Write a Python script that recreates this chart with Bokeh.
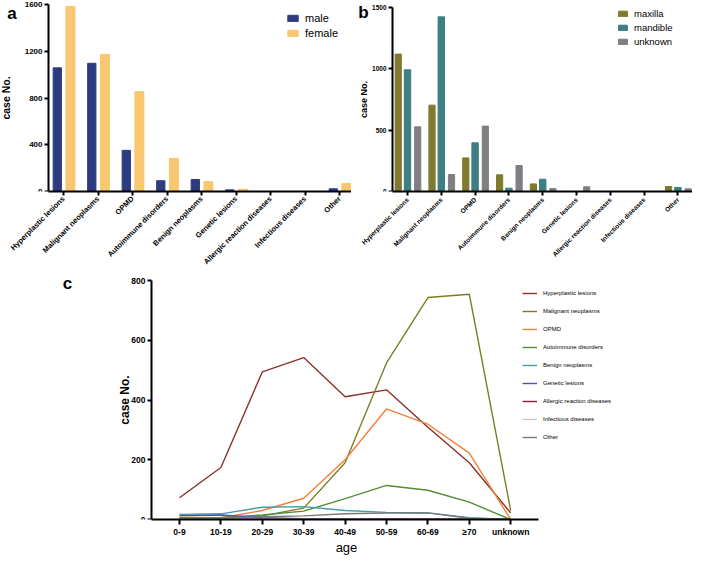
import math
from bokeh.plotting import figure
from bokeh.models import Range1d, FixedTicker, Label, ColumnDataSource
from bokeh.transform import dodge
from bokeh.layouts import column, row
from bokeh.embed import file_html
from bokeh.resources import INLINE

# ---------------- data ----------------
categories = ["Hyperplastic lesions", "Malignant neoplasms", "OPMD", "Autoimmune disorders",
              "Benign neoplasms", "Genetic lesions", "Allergic reaction diseases",
              "Infectious diseases", "Other"]
male = [1058, 1097, 352, 92, 103, 14, 0, 0, 23]
female = [1583, 1172, 854, 283, 84, 20, 0, 0, 69]

maxilla = [1120, 704, 274, 136, 62, 0, 0, 0, 41]
mandible = [992, 1424, 397, 27, 100, 0, 0, 0, 33]
unknown_site = [527, 139, 533, 212, 24, 38, 0, 0, 22]

age_groups = ["0-9", "10-19", "20-29", "30-39", "40-49", "50-59", "60-69", "≥70", "unknown"]
hyperplastic = [73, 174, 494, 542, 411, 434, 309, 190, 22]
malignant = [5, 6, 12, 38, 190, 524, 743, 754, 30]
opmd = [8, 6, 30, 71, 200, 370, 319, 222, 0]
autoimmune = [5, 6, 15, 28, 70, 114, 98, 58, 0]
benign = [17, 19, 41, 43, 30, 24, 22, 6, 0]
genetic = [13, 15, 6, 3, 2, 2, 1, 1, 0]
allergic = [2, 2, 2, 1, 1, 1, 1, 1, 0]
infectious = [1, 1, 1, 1, 1, 0, 0, 0, 0]
other = [4, 6, 9, 12, 19, 22, 22, 4, 0]

FONT = "Liberation Sans"


def style_axes(p, xfont, yfont, ytitle_font):
    p.xgrid.visible = False
    p.ygrid.visible = False
    p.outline_line_color = None
    for ax in p.axis:
        ax.axis_line_width = 2
        ax.axis_line_color = "black"
        ax.major_tick_line_width = 2
        ax.major_tick_line_color = "black"
        ax.major_tick_in = 0
        ax.major_tick_out = 4
        ax.minor_tick_line_color = None
        ax.major_label_text_font = FONT
        ax.major_label_text_font_style = "bold"
        ax.major_label_text_color = "black"
        ax.axis_label_text_font = FONT
        ax.axis_label_text_color = "black"
    p.xaxis.major_label_text_font_size = xfont
    p.yaxis.major_label_text_font_size = yfont
    p.yaxis.axis_label_text_font_size = ytitle_font
    p.yaxis.axis_label_text_font_style = "bold"
    p.yaxis.major_label_standoff = 2


def panel_letter(p, txt, x, y):
    p.add_layout(Label(x=x, y=y, text=txt, text_font=FONT, text_font_size="17px",
                       text_font_style="bold", text_baseline="middle", text_align="center",
                       text_color="black"))


def style_legend(lg, loc, spacing, gw, gh, lh, standoff, fsize):
    lg.location = loc
    lg.border_line_color = None
    lg.background_fill_alpha = 0
    lg.padding = 0
    lg.margin = 0
    lg.spacing = spacing
    lg.glyph_width = gw
    lg.glyph_height = gh
    lg.label_height = lh
    lg.label_standoff = standoff
    lg.label_text_font = FONT
    lg.label_text_font_size = fsize
    lg.label_text_color = "black"


idx = list(range(len(categories)))
labels = {i: c for i, c in enumerate(categories)}
TOP_H = 272

# ---------------- panel a ----------------
A_W, A_FB = 351, 191
a_t0, a_dx, a_yax = 63.0, 34.5, 48.0
a_top_px = 4.0
a_ymax = 1600
a_yend = a_ymax + a_top_px * a_ymax / (A_FB - a_top_px)
src_a = ColumnDataSource(dict(x=idx, male=male, female=female))
pa = figure(width=A_W, height=TOP_H, output_backend="svg", toolbar_location=None,
            x_range=Range1d(-a_t0 / a_dx, (A_W - a_t0) / a_dx), y_range=Range1d(0, a_yend),
            min_border_left=0, min_border_right=0, min_border_top=0, min_border_bottom=TOP_H - A_FB)
pa.vbar(x=dodge("x", -0.18, range=pa.x_range), top="male", width=0.24, source=src_a,
        color="#2E3B80", legend_label="male")
pa.vbar(x=dodge("x", 0.2, range=pa.x_range), top="female", width=0.26, source=src_a,
        color="#F8C76F", legend_label="female")
style_axes(pa, "7.5px", "8px", "10.5px")
pa.yaxis.fixed_location = (a_yax - a_t0) / a_dx
pa.yaxis.bounds = (0, a_ymax)
pa.xaxis.bounds = ((a_yax - a_t0) / a_dx, (A_W - a_t0) / a_dx)
pa.yaxis.axis_label = "case No."
pa.yaxis.axis_label_standoff = 10
pa.yaxis.ticker = FixedTicker(ticks=[0, 400, 800, 1200, 1600])
pa.xaxis.ticker = FixedTicker(ticks=idx)
pa.xaxis.major_label_overrides = labels
pa.xaxis.major_label_orientation = math.pi / 4
pa.xaxis.major_label_standoff = 2
style_legend(pa.legend[0], (286, 152), 2, 13, 8, 13, 6, "11px")
panel_letter(pa, "a", (11.5 - a_t0) / a_dx, (A_FB - 13) * a_ymax / (A_FB - a_top_px))

# ---------------- panel b ----------------
B_X0, B_W, B_FB = A_W, 692 - A_W, 191
b_t0, b_dx, b_yax = 407.0 - B_X0, 33.8, 392.0 - B_X0
b_top_px = 7.0
b_ymax = 1500
b_yend = b_ymax + b_top_px * b_ymax / (B_FB - b_top_px)
src_b = ColumnDataSource(dict(x=idx, maxilla=maxilla, mandible=mandible, unknown=unknown_site))
pb = figure(width=B_W, height=TOP_H, output_backend="svg", toolbar_location=None,
            x_range=Range1d(-b_t0 / b_dx, (B_W - b_t0) / b_dx), y_range=Range1d(0, b_yend),
            min_border_left=0, min_border_right=0, min_border_top=0, min_border_bottom=TOP_H - B_FB)
pb.vbar(x=dodge("x", -0.275, range=pb.x_range), top="maxilla", width=0.183, source=src_b,
        color="#7F7A2E", legend_label="maxilla")
pb.vbar(x=dodge("x", 0.0, range=pb.x_range), top="mandible", width=0.19, source=src_b,
        color="#3D7F82", legend_label="mandible")
pb.vbar(x=dodge("x", 0.302, range=pb.x_range), top="unknown", width=0.183, source=src_b,
        color="#7F7F83", legend_label="unknown")
style_axes(pb, "6.5px", "6.5px", "9px")
pb.yaxis.fixed_location = (b_yax - b_t0) / b_dx
pb.yaxis.bounds = (0, b_ymax)
pb.xaxis.bounds = ((b_yax - b_t0) / b_dx, (B_W - b_t0) / b_dx)
pb.yaxis.axis_label = "case No."
pb.yaxis.axis_label_standoff = 0
pb.yaxis.ticker = FixedTicker(ticks=[0, 500, 1000, 1500])
pb.xaxis.ticker = FixedTicker(ticks=idx)
pb.xaxis.major_label_overrides = labels
pb.xaxis.major_label_orientation = math.pi / 4
pb.xaxis.major_label_standoff = 3
style_legend(pb.legend[0], (617 - B_X0, 144), 3, 11, 7, 11, 6, "9.5px")
panel_letter(pb, "b", (363 - B_X0 - b_t0) / b_dx, (B_FB - 12) * b_ymax / (B_FB - b_top_px))

# ---------------- panel c ----------------
C_Y0, C_W, C_BB = TOP_H, 692, 38
C_H = 557 - C_Y0
C_FB = C_Y0 + C_H - C_BB          # frame bottom in page px (zero line)
c_t0, c_dx, c_yax, c_xend = 179.0, 41.4, 151.0, 538.0
c_top_px = 280.0                  # pixel row of the 800 tick
c_ymax = 800
c_scale = (C_FB - c_top_px) / c_ymax
c_yend = c_ymax + (c_top_px - C_Y0) / c_scale
aidx = list(range(len(age_groups)))
pc = figure(width=C_W, height=C_H, output_backend="svg", toolbar_location=None,
            x_range=Range1d(-c_t0 / c_dx, (C_W - c_t0) / c_dx), y_range=Range1d(0, c_yend),
            min_border_left=0, min_border_right=0, min_border_top=0, min_border_bottom=C_BB)
series = [
    ("Hyperplastic lesions", hyperplastic, "#8B302B"),
    ("Malignant neoplasms", malignant, "#7E7C25"),
    ("OPMD", opmd, "#F47F36"),
    ("Autoimmune disorders", autoimmune, "#4F8F30"),
    ("Benign neoplasms", benign, "#469C9E"),
    ("Genetic lesions", genetic, "#4B4BD6"),
    ("Allergic reaction diseases", allergic, "#8C1B3C"),
    ("Infectious diseases", infectious, "#C9C9C9"),
    ("Other", other, "#7A7A7A"),
]
for name, vals, col in series:
    pc.line(aidx, vals, line_color=col, line_width=1.4, legend_label=name)
style_axes(pc, "8.5px", "8.5px", "12px")
pc.xaxis.major_tick_out = 5
pc.yaxis.fixed_location = (c_yax - c_t0) / c_dx
pc.yaxis.bounds = (0, c_ymax)
pc.xaxis.bounds = ((c_yax - c_t0) / c_dx, (c_xend - c_t0) / c_dx)
pc.yaxis.axis_label = "case No."
pc.yaxis.axis_label_standoff = -4
pc.xaxis.axis_label = "age"
pc.xaxis.axis_label_text_font_size = "13px"
pc.xaxis.axis_label_text_font_style = "normal"
pc.xaxis.axis_label_standoff = 0
pc.xaxis.major_label_standoff = 2
pc.yaxis.ticker = FixedTicker(ticks=[0, 200, 400, 600, 800])
pc.xaxis.ticker = FixedTicker(ticks=aidx)
pc.xaxis.major_label_overrides = {i: a for i, a in enumerate(age_groups)}
style_legend(pc.legend[0], (522, int(round(C_FB - 440.7))), 10, 15, 8, 8, 6, "6px")
panel_letter(pc, "c", (67 - c_t0) / c_dx, (C_FB - 283) / c_scale)

layout = column(row(pa, pb, spacing=0), pc, spacing=0)
open("out.html", "w").write(file_html(layout, INLINE))
